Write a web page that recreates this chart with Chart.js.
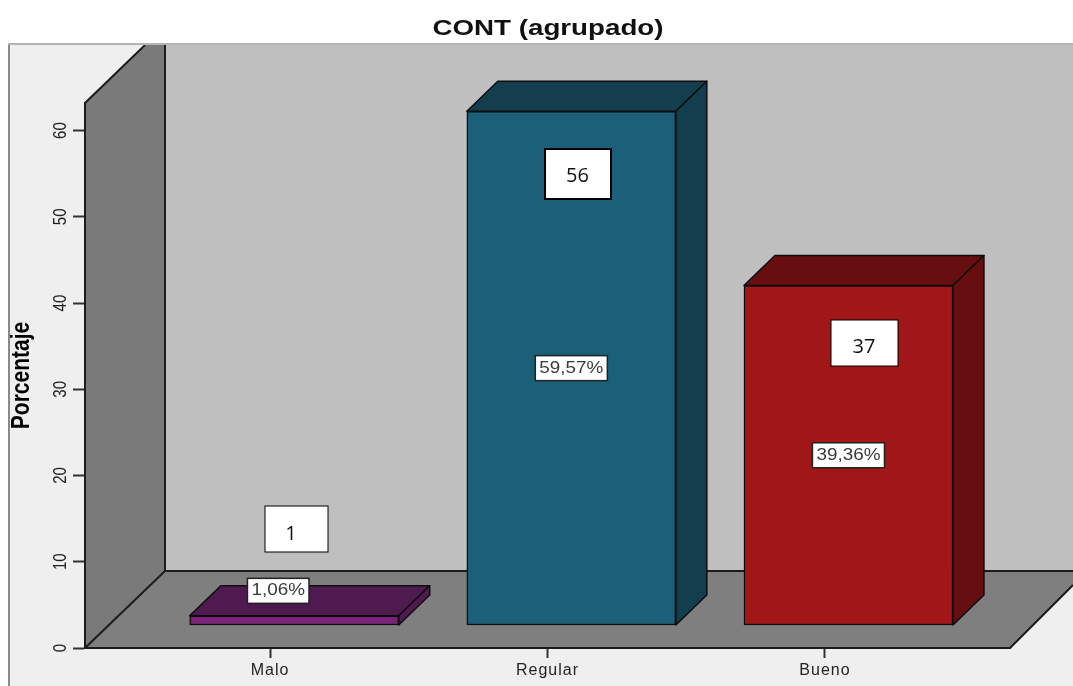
<!DOCTYPE html>
<html>
<head>
<meta charset="utf-8">
<title>CONT (agrupado)</title>
<script src="https://cdn.jsdelivr.net/npm/chart.js@4"></script>
<style>
  html, body { margin: 0; padding: 0; background: #fff; }
  canvas { display: block; }
</style>
</head>
<body>
<canvas id="contChart" width="1073" height="686"></canvas>
<script>
const categories = ['Malo', 'Regular', 'Bueno'];
const percentages = [1.06, 59.57, 39.36];
const counts = [1, 56, 37];
const frontColors = ['#7b2379', '#1c5f78', '#a11616'];
const darkColors = ['#4f1a50', '#123e4e', '#670f10'];

// hand placed text boxes on top of the chart, same as the original
const countBoxes = [
    { x: 265, y: 506, w: 63, h: 46, lw: 1, tx: 291, ty: 534 },
    { x: 545, y: 149, w: 66, h: 50, lw: 2, tx: 577.5, ty: 176 },
    { x: 831, y: 320, w: 67, h: 46, lw: 1, tx: 864, ty: 347 }
];

const FONT = '"Liberation Sans", Arial, sans-serif';
const LINE = '#1c1c1c';
const STRETCH = 1.26; // the source screenshot is wider than tall
const LABEL_STRETCH = 1.18;

function poly(ctx, pts, fill, stroke, lw) {
    ctx.beginPath();
    pts.forEach((p, i) => i ? ctx.lineTo(p[0], p[1]) : ctx.moveTo(p[0], p[1]));
    ctx.closePath();
    if (fill) {
        ctx.fillStyle = fill;
        ctx.fill();
    }
    if (stroke) {
        ctx.strokeStyle = stroke;
        ctx.lineWidth = lw || 1;
        ctx.stroke();
    }
}

function stretchX(ctx, cx, s) {
    ctx.translate(cx, 0);
    ctx.scale(s, 1);
    ctx.translate(-cx, 0);
}

// wrap a draw method of a chart box so its text comes out stretched around cx
function wrapStretched(box, method, ctx, cx) {
    const orig = box[method];
    box[method] = function (...args) {
        ctx.save();
        stretchX(ctx, cx, STRETCH);
        orig.apply(this, args);
        ctx.restore();
    };
}

const roomPlugin = {
    id: 'room',
    afterLayout(chart) {
        if (chart.$wrapped) return;
        chart.$wrapped = true;
        const ctx = chart.ctx;
        const block = chart.titleBlock;
        // title sits over the whole floor including its depth
        block.right = 1096;
        wrapStretched(block, 'draw', ctx, 548);
        wrapStretched(chart.scales.y, 'drawLabels', ctx, 59.5);
        wrapStretched(chart.scales.y, 'drawTitle', ctx, 20);
        const xScale = chart.scales.x;
        const xLabels = xScale.drawLabels;
        xScale.drawLabels = function (...args) {
            ctx.save();
            ctx.letterSpacing = '1px';
            xLabels.apply(this, args);
            ctx.restore();
        };
    },
    // panel, side wall, back wall and floor
    beforeDraw(chart) {
        const ctx = chart.ctx;
        const a = chart.chartArea;
        ctx.save();
        ctx.fillStyle = '#fff';
        ctx.fillRect(0, 0, 1073, 686);
        ctx.fillStyle = '#efefef';
        ctx.fillRect(9, 44, 1064, 642);
        ctx.fillStyle = '#bfbfbf';
        ctx.fillRect(165, 45, 908, 526);
        poly(ctx, [[a.left, a.top], [145, 45], [165, 45], [165, 571], [a.left, a.bottom]], '#7a7a7a');
        poly(ctx, [[a.left, a.bottom], [165, 571], [1073, 571], [1073, 585], [a.right, a.bottom]], '#7f7f7f');

        ctx.strokeStyle = LINE;
        ctx.lineWidth = 2;
        ctx.beginPath();
        ctx.moveTo(a.left, a.top); ctx.lineTo(145, 45);
        ctx.moveTo(165, 45); ctx.lineTo(165, 571); ctx.lineTo(1073, 571);
        ctx.moveTo(165, 571); ctx.lineTo(a.left, a.bottom);
        ctx.moveTo(a.right, a.bottom); ctx.lineTo(1073, 585);
        ctx.stroke();

        ctx.fillStyle = '#8a8a8a';
        ctx.fillRect(8, 44, 2, 642);
        ctx.fillStyle = '#b4b4b4';
        ctx.fillRect(8, 43, 1065, 2);
        ctx.restore();
    },
    // top and side faces of each bar, the front comes from the dataset
    beforeDatasetsDraw(chart) {
        const ctx = chart.ctx;
        const dx = 31, dy = 30;
        ctx.save();
        ctx.lineJoin = 'round';
        chart.getDatasetMeta(0).data.forEach((bar, i) => {
            const l = bar.x - bar.width / 2;
            const r = bar.x + bar.width / 2;
            poly(ctx, [[l, bar.y], [l + dx, bar.y - dy], [r + dx, bar.y - dy], [r, bar.y]], darkColors[i], '#0d0d0d', 1.5);
            poly(ctx, [[r, bar.y], [r + dx, bar.y - dy], [r + dx, bar.base - dy], [r, bar.base]], darkColors[i], '#0d0d0d', 1.5);
        });
        ctx.restore();
    },
    afterDatasetsDraw(chart) {
        const ctx = chart.ctx;
        ctx.save();
        ctx.textAlign = 'center';
        ctx.textBaseline = 'middle';

        chart.getDatasetMeta(0).data.forEach((bar, i) => {
            let cx = bar.x;
            let cy = (bar.y + bar.base) / 2;
            // the small bar has its label lifted onto the top face
            if (percentages[i] < 5) {
                cx = bar.x - 16;
                cy = bar.y - 25;
            }
            const text = percentages[i].toFixed(2).replace('.', ',') + '%';
            ctx.font = '16px ' + FONT;
            const w = ctx.measureText(text).width * LABEL_STRETCH + 8;
            ctx.fillStyle = '#fff';
            ctx.strokeStyle = '#222';
            ctx.lineWidth = 1.5;
            ctx.fillRect(cx - w / 2, cy - 12.5, w, 25);
            ctx.strokeRect(cx - w / 2, cy - 12.5, w, 25);
            ctx.save();
            stretchX(ctx, cx, LABEL_STRETCH);
            ctx.fillStyle = '#3a3a3a';
            ctx.fillText(text, cx, cy);
            ctx.restore();
        });

        countBoxes.forEach((b, i) => {
            ctx.fillStyle = '#fff';
            ctx.fillRect(b.x, b.y, b.w, b.h);
            ctx.strokeStyle = '#000';
            ctx.lineWidth = b.lw;
            ctx.strokeRect(b.x, b.y, b.w, b.h);
            ctx.fillStyle = '#111';
            ctx.font = '20px "Open Sans", sans-serif';
            ctx.fillText(String(counts[i]), b.tx, b.ty);
        });
        ctx.restore();
    }
};

new Chart(document.getElementById('contChart'), {
    type: 'bar',
    data: {
        datasets: [{
            data: percentages.map((v, i) => ({ x: i, y: v })),
            xAxisID: 'barX',
            yAxisID: 'barY',
            backgroundColor: frontColors,
            borderColor: '#0d0d0d',
            borderWidth: 1.5,
            borderSkipped: false,
            barThickness: 209,
            grouped: false,
            clip: false
        }]
    },
    plugins: [roomPlugin],
    options: {
        responsive: false,
        animation: false,
        layout: { padding: { left: 0, right: 63, top: 0, bottom: 0 } },
        plugins: {
            legend: { display: false },
            tooltip: { enabled: false },
            title: {
                display: true,
                text: 'CONT (agrupado)',
                color: '#111',
                font: { family: FONT, size: 22, weight: 'bold', lineHeight: 1.2 },
                padding: { top: 16, bottom: 60.6 }
            }
        },
        scales: {
            x: {
                type: 'linear',
                offset: false,
                min: -0.667,
                max: 2.667,
                afterBuildTicks: (scale) => { scale.ticks = categories.map((c, i) => ({ value: i })); },
                afterFit: (scale) => { scale.height = 38; },
                border: { color: LINE, width: 2 },
                grid: { offset: false, drawOnChartArea: false, tickLength: 10, tickColor: '#333', tickWidth: 2 },
                ticks: {
                    color: '#222',
                    padding: 3,
                    maxRotation: 0,
                    font: { family: FONT, size: 16 },
                    callback: (value) => categories[value]
                }
            },
            y: {
                min: 0,
                max: 63.2,
                afterFit: (scale) => { scale.width = 85; },
                border: { color: LINE, width: 2 },
                grid: { drawOnChartArea: false, tickLength: 12, tickColor: '#333', tickWidth: 2 },
                title: {
                    display: true,
                    text: 'Porcentaje',
                    color: '#000',
                    font: { family: FONT, size: 21, weight: 'bold' },
                    padding: { top: 8.5, bottom: 0 }
                },
                ticks: {
                    stepSize: 10,
                    includeBounds: false,
                    color: '#222',
                    padding: 4,
                    minRotation: 90,
                    maxRotation: 90,
                    crossAlign: 'center',
                    font: { family: FONT, size: 15 }
                }
            },
            barX: { type: 'linear', offset: false, grid: { offset: false }, display: false, min: -0.755, max: 2.583 },
            barY: { display: false, min: -2.67, max: 60.53 }
        }
    }
});
</script>
</body>
</html>
